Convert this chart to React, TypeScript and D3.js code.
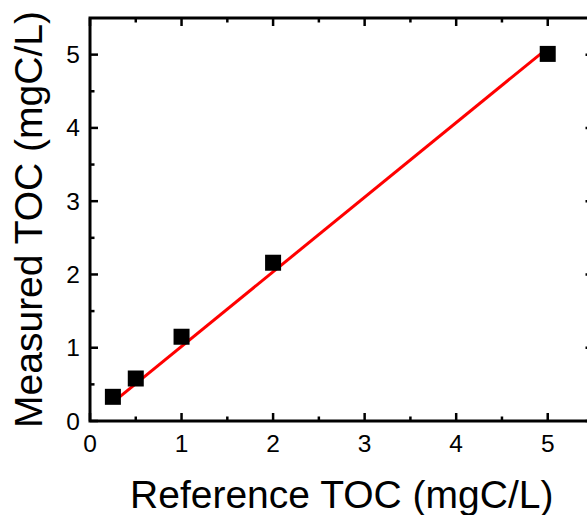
import React, { useEffect, useRef } from "react";
import * as d3 from "d3";

const refX = [0.25, 0.5, 1, 2, 5];
const measY = [0.33, 0.58, 1.15, 2.16, 5.01];
const fitX = [0.25, 5];
const fitY = [0.255, 5.09];
const xTicks = [0, 1, 2, 3, 4, 5];
const yTicks = [0, 1, 2, 3, 4, 5];
const minorTicks = [0.5, 1.5, 2.5, 3.5, 4.5];
const xTitle = "Reference TOC (mgC/L)";
const yTitle = "Measured TOC (mgC/L)";

export default function App() {
  const ref = useRef<SVGSVGElement>(null);
  useEffect(() => {
    const svg = d3.select(ref.current);
    svg.selectAll("*").remove();
    const L = 90, R = 593.5, T = 18, B = 421;
    const x = d3.scaleLinear().domain([0, 5.5]).range([L, R]);
    const y = d3.scaleLinear().domain([0, 5.5]).range([B, T]);
    const font = "'Liberation Sans', Arial, sans-serif";
    const g = svg.append("g");

    // fit line
    const line = d3.line<number>().x((_, i) => x(fitX[i])).y((d) => y(d));
    g.append("path").attr("d", line(fitY)).attr("fill", "none")
      .attr("stroke", "#ff0000").attr("stroke-width", 3);

    // markers
    const s = 16;
    g.selectAll("rect.pt").data(refX).enter().append("rect")
      .attr("x", (d) => x(d) - s / 2).attr("y", (_, i) => y(measY[i]) - s / 2)
      .attr("width", s).attr("height", s).attr("fill", "#000");

    // frame
    g.append("rect").attr("x", L).attr("y", T).attr("width", R - L).attr("height", B - T)
      .attr("fill", "none").attr("stroke", "#000").attr("stroke-width", 3);

    const tk = (x1: number, y1: number, x2: number, y2: number) =>
      g.append("line").attr("x1", x1).attr("y1", y1).attr("x2", x2).attr("y2", y2)
        .attr("stroke", "#000").attr("stroke-width", 2.5);

    const major = 8, minor = 4.5;
    xTicks.forEach((v) => { tk(x(v), B, x(v), B - major); tk(x(v), T, x(v), T + major); });
    minorTicks.forEach((v) => { tk(x(v), B, x(v), B - minor); tk(x(v), T, x(v), T + minor); });
    yTicks.forEach((v) => { tk(L, y(v), L + major, y(v)); tk(R, y(v), R - major, y(v)); });
    minorTicks.forEach((v) => { tk(L, y(v), L + minor, y(v)); tk(R, y(v), R - minor, y(v)); });

    // tick labels
    g.selectAll("text.xt").data(xTicks).enter().append("text")
      .attr("x", (d) => x(d)).attr("y", 452).attr("text-anchor", "middle")
      .attr("font-family", font).attr("font-size", 24.5).text((d) => d);
    g.selectAll("text.yt").data(yTicks).enter().append("text")
      .attr("x", 80).attr("y", (d) => y(d) + 8.5).attr("text-anchor", "end")
      .attr("font-family", font).attr("font-size", 24.5).text((d) => d);

    // titles
    g.append("text").attr("x", (L + R) / 2).attr("y", 508).attr("text-anchor", "middle")
      .attr("font-family", font).attr("font-size", 39).text(xTitle);
    g.append("text").attr("transform", `translate(42,${(T + B) / 2}) rotate(-90)`)
      .attr("text-anchor", "middle").attr("font-family", font).attr("font-size", 39).text(yTitle);
  }, []);
  return (
    <svg ref={ref} width={587} height={515}
      style={{ position: "absolute", left: 0, top: 0, background: "#fff" }} />
  );
}
